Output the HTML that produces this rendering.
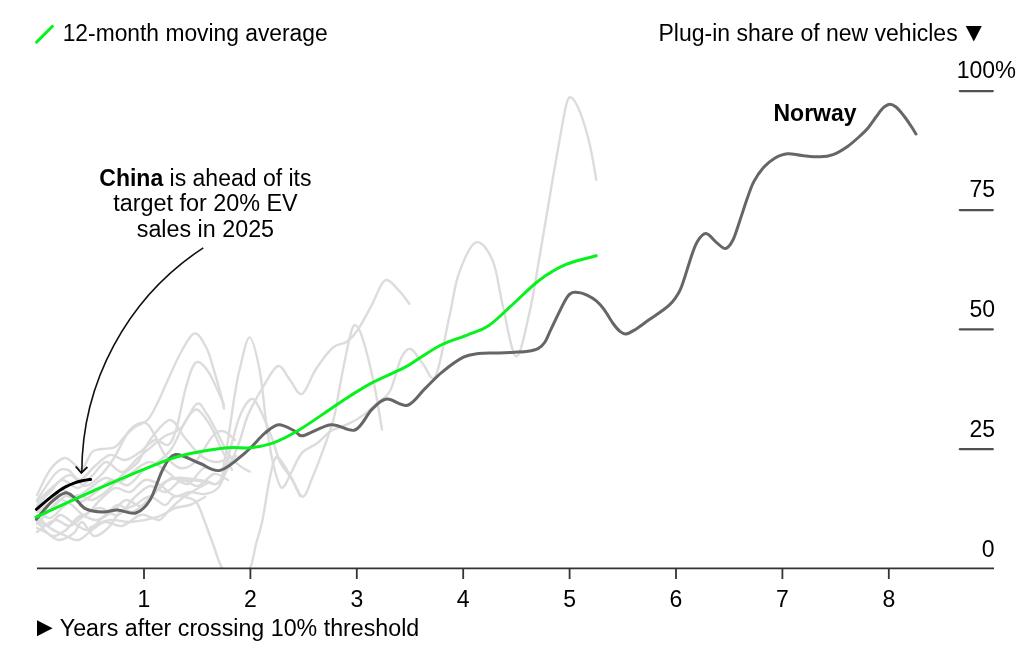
<!DOCTYPE html>
<html><head><meta charset="utf-8"><style>
html,body{margin:0;padding:0;background:#fff;width:1024px;height:658px;overflow:hidden}
svg{position:absolute;left:0;top:0;will-change:transform}
text{font-family:"Liberation Sans",sans-serif;font-size:23px;fill:#000}
</style></head><body>
<svg width="1024" height="658" viewBox="0 0 1024 658">
<defs><clipPath id="cp"><rect x="30" y="80" width="900" height="488"/></clipPath></defs>
<g id="grays" clip-path="url(#cp)">
<path d="M37.0,512.0 C39.2,510.5 45.8,506.7 50.0,503.0 C54.2,499.3 57.8,491.0 62.0,490.0 C66.2,489.0 70.3,497.3 75.0,497.0 C79.7,496.7 85.0,491.2 90.0,488.0 C95.0,484.8 100.0,479.0 105.0,478.0 C110.0,477.0 115.0,483.3 120.0,482.0 C125.0,480.7 130.0,473.3 135.0,470.0 C140.0,466.7 145.0,462.0 150.0,462.0 C155.0,462.0 160.3,467.0 165.0,470.0 C169.7,473.0 173.7,478.3 178.0,480.0 C182.3,481.7 186.3,479.7 191.0,480.0 C195.7,480.3 201.8,481.3 206.0,482.0 C210.2,482.7 213.4,484.7 216.0,484.0 C218.6,483.3 220.4,481.2 221.7,478.0 C223.0,474.8 222.9,469.7 223.7,465.0 C224.5,460.3 225.3,457.1 226.5,450.0 C227.7,442.9 229.2,431.6 230.6,422.4 C232.0,413.2 233.2,403.7 234.7,395.0 C236.2,386.3 237.0,379.6 239.5,370.0 C242.0,360.4 246.2,337.4 249.5,337.4 C252.8,337.4 256.8,355.6 259.6,370.0 C262.4,384.4 264.2,408.7 266.4,424.0 C268.6,439.3 270.3,451.4 272.8,462.0 C275.3,472.6 278.4,485.8 281.4,487.6 C284.4,489.4 287.6,478.8 291.0,473.0 C294.4,467.2 297.6,457.8 301.9,452.9 C306.1,448.0 311.6,447.4 316.5,443.8 C321.4,440.2 325.6,434.4 331.0,431.0 C336.4,427.6 343.5,426.4 349.0,423.7 C354.5,421.0 359.5,417.9 364.0,414.6 C368.5,411.3 371.7,407.9 376.0,404.0 C380.3,400.1 385.8,398.6 390.0,391.0 C394.2,383.4 397.5,365.5 401.0,358.5 C404.5,351.5 407.1,348.1 410.8,349.0 C414.5,349.9 418.9,359.5 423.0,364.0 C427.1,368.5 431.1,383.8 435.5,376.0 C439.9,368.2 445.3,334.4 449.2,317.3 C453.1,300.2 454.4,286.0 458.9,273.5 C463.4,261.0 470.3,244.4 476.0,242.4 C481.7,240.4 488.6,250.9 493.0,261.4 C497.4,271.9 498.8,289.4 502.7,305.2 C506.6,321.0 511.6,355.1 516.1,356.3 C520.6,357.5 525.6,328.7 529.5,312.5 C533.4,296.3 535.3,281.4 539.2,258.9 C543.1,236.4 549.5,197.8 553.0,177.3 C556.5,156.8 558.1,148.2 560.3,136.0 C562.5,123.8 564.6,110.7 566.4,104.3 C568.2,97.9 569.0,96.3 571.2,97.5 C573.4,98.7 576.8,104.0 579.8,111.6 C582.8,119.2 586.8,131.9 589.5,143.3 C592.2,154.7 595.2,173.7 596.3,179.8" stroke="#dcdcdc" stroke-width="2.4" fill="none" stroke-linecap="round" stroke-linejoin="round"/>
<path d="M37.0,495.0 C39.2,490.8 45.5,476.2 50.0,470.0 C54.5,463.8 60.2,459.2 64.0,458.0 C67.8,456.8 70.0,461.2 73.0,463.0 C76.0,464.8 78.8,470.8 82.0,469.0 C85.2,467.2 88.7,455.3 92.0,452.0 C95.3,448.7 98.2,449.8 102.0,449.0 C105.8,448.2 111.2,449.2 115.0,447.0 C118.8,444.8 121.7,439.3 125.0,436.0 C128.3,432.7 131.2,429.8 135.0,427.0 C138.8,424.2 144.2,423.7 148.0,419.5 C151.8,415.3 154.9,408.1 158.0,402.0 C161.1,395.9 162.7,391.3 166.5,383.0 C170.3,374.7 176.4,360.3 181.1,352.0 C185.8,343.7 190.6,334.0 194.8,333.4 C199.1,332.8 203.4,342.2 206.6,348.3 C209.8,354.4 211.5,362.3 213.9,370.2 C216.3,378.1 219.5,389.4 221.2,395.8 C222.9,402.2 223.5,406.4 224.0,408.5" stroke="#dcdcdc" stroke-width="2.4" fill="none" stroke-linecap="round" stroke-linejoin="round"/>
<path d="M37.0,500.0 C40.2,495.5 50.8,478.0 56.0,473.0 C61.2,468.0 64.0,468.8 68.0,470.0 C72.0,471.2 75.5,480.7 80.0,480.0 C84.5,479.3 90.0,470.2 95.0,466.0 C100.0,461.8 105.0,456.0 110.0,455.0 C115.0,454.0 120.0,460.5 125.0,460.0 C130.0,459.5 135.0,455.3 140.0,452.0 C145.0,448.7 150.3,441.2 155.0,440.0 C159.7,438.8 164.5,446.7 168.0,445.0 C171.5,443.3 173.2,438.8 176.0,430.0 C178.8,421.2 182.0,402.4 184.7,392.1 C187.4,381.8 189.7,373.4 192.0,368.4 C194.3,363.4 195.7,361.4 198.4,362.0 C201.2,362.6 205.3,367.3 208.5,372.0 C211.7,376.7 215.0,384.8 217.6,390.3 C220.2,395.8 222.9,402.5 224.0,404.9" stroke="#dcdcdc" stroke-width="2.4" fill="none" stroke-linecap="round" stroke-linejoin="round"/>
<path d="M37.0,524.0 C38.8,522.0 44.2,516.0 48.0,512.0 C51.8,508.0 56.0,501.2 60.0,500.0 C64.0,498.8 67.8,502.5 72.0,505.0 C76.2,507.5 80.3,515.8 85.0,515.0 C89.7,514.2 95.0,504.5 100.0,500.0 C105.0,495.5 110.0,489.3 115.0,488.0 C120.0,486.7 125.0,493.3 130.0,492.0 C135.0,490.7 140.0,481.2 145.0,480.0 C150.0,478.8 155.0,482.3 160.0,485.0 C165.0,487.7 170.0,494.8 175.0,496.0 C180.0,497.2 185.0,492.3 190.0,492.0 C195.0,491.7 200.3,494.7 205.0,494.0 C209.7,493.3 214.5,491.7 218.0,488.0 C221.5,484.3 223.9,476.1 226.0,472.0 C228.1,467.9 228.3,468.7 230.6,463.4 C232.9,458.1 237.1,448.1 240.0,440.0 C242.9,431.9 244.2,423.8 248.0,415.0 C251.8,406.2 258.0,395.2 263.0,387.0 C268.0,378.8 273.5,367.2 278.0,366.0 C282.5,364.8 286.0,375.3 290.0,380.0 C294.0,384.7 297.7,395.8 302.0,394.0 C306.3,392.2 310.8,376.8 316.0,369.0 C321.2,361.2 327.9,352.0 333.0,347.5 C338.1,343.0 342.5,344.8 346.5,342.0 C350.5,339.2 352.9,336.9 357.0,331.0 C361.1,325.1 366.4,314.9 371.0,306.5 C375.6,298.1 380.2,283.2 384.8,280.5 C389.4,277.8 394.4,286.2 398.5,290.1 C402.6,294.0 407.6,301.5 409.4,303.8" stroke="#dcdcdc" stroke-width="2.4" fill="none" stroke-linecap="round" stroke-linejoin="round"/>
<path d="M37.0,528.0 C38.7,528.8 43.3,531.0 47.0,533.0 C50.7,535.0 54.5,540.0 59.0,540.0 C63.5,540.0 70.2,536.0 74.0,533.0 C77.8,530.0 78.7,521.5 82.0,522.0 C85.3,522.5 89.7,535.0 94.0,536.0 C98.3,537.0 103.7,532.0 108.0,528.0 C112.3,524.0 115.5,515.8 120.0,512.0 C124.5,508.2 130.0,507.6 135.0,505.0 C140.0,502.4 145.0,496.5 150.0,496.5 C155.0,496.5 160.9,505.0 165.0,505.0 C169.1,505.0 170.3,497.6 174.6,496.5 C178.9,495.4 187.1,497.2 191.0,498.6 C194.9,500.0 195.7,501.1 197.9,504.7 C200.1,508.3 201.6,513.5 204.1,520.0 C206.6,526.5 209.9,535.9 213.0,544.0 C216.1,552.1 218.6,563.3 222.4,568.5 C226.2,573.7 231.4,575.0 236.0,575.0 C240.6,575.0 246.4,573.7 249.7,568.5 C253.0,563.3 253.9,552.1 256.0,544.0 C258.1,535.9 260.1,531.6 262.5,520.0 C264.9,508.4 268.0,485.1 270.5,474.6 C273.0,464.1 273.9,456.6 277.3,457.0 C280.7,457.4 286.8,470.4 291.0,477.0 C295.2,483.6 299.2,496.8 302.8,496.7 C306.4,496.6 309.6,483.9 312.8,476.6 C316.0,469.3 319.3,460.3 322.0,453.0 C324.7,445.7 327.1,439.2 329.2,432.8 C331.3,426.4 332.7,423.4 334.7,414.6 C336.7,405.8 338.4,393.4 341.0,380.0 C343.6,366.6 348.1,343.1 350.6,334.0 C353.1,324.9 354.1,324.7 356.1,325.6 C358.2,326.5 359.9,329.7 362.9,339.3 C365.9,348.9 370.7,368.1 373.9,383.1 C377.1,398.2 380.6,421.9 382.0,429.6" stroke="#dcdcdc" stroke-width="2.4" fill="none" stroke-linecap="round" stroke-linejoin="round"/>
<path d="M37.0,520.0 C38.8,521.0 44.2,526.8 48.0,526.0 C51.8,525.2 56.0,515.7 60.0,515.0 C64.0,514.3 67.3,519.5 72.0,522.0 C76.7,524.5 83.0,530.7 88.0,530.0 C93.0,529.3 97.0,522.2 102.0,518.0 C107.0,513.8 113.0,506.0 118.0,505.0 C123.0,504.0 127.0,512.8 132.0,512.0 C137.0,511.2 142.7,504.9 148.0,500.0 C153.3,495.1 158.8,486.5 163.7,482.8 C168.6,479.1 172.8,478.7 177.4,478.0 C182.0,477.3 186.0,478.1 191.0,478.7 C196.0,479.3 203.4,480.6 207.5,481.5 C211.6,482.4 213.2,484.9 215.7,484.2 C218.2,483.5 220.7,480.9 222.5,477.4 C224.3,473.9 224.9,469.1 226.5,463.4 C228.1,457.6 229.8,450.9 232.0,442.9 C234.2,434.9 236.8,422.8 240.0,415.5 C243.2,408.2 247.8,400.6 251.0,399.2 C254.2,397.8 255.5,400.9 259.0,407.4 C262.5,413.9 268.5,429.2 272.0,438.3 C275.5,447.4 276.8,455.4 280.0,462.0 C283.2,468.6 287.7,472.3 291.0,478.0 C294.3,483.7 298.5,493.0 300.0,496.0" stroke="#dcdcdc" stroke-width="2.4" fill="none" stroke-linecap="round" stroke-linejoin="round"/>
<path d="M37.0,506.0 C39.2,503.7 45.8,496.3 50.0,492.0 C54.2,487.7 57.3,480.7 62.0,480.0 C66.7,479.3 73.0,488.7 78.0,488.0 C83.0,487.3 87.3,480.3 92.0,476.0 C96.7,471.7 101.0,462.7 106.0,462.0 C111.0,461.3 116.7,472.7 122.0,472.0 C127.3,471.3 133.3,462.0 138.0,458.0 C142.7,454.0 145.5,451.7 150.0,448.0 C154.5,444.3 159.8,439.3 165.0,436.0 C170.2,432.7 175.7,433.3 181.0,428.0 C186.3,422.7 192.4,406.5 196.6,404.0 C200.8,401.5 202.8,408.6 206.0,412.8 C209.2,417.0 212.8,424.2 215.5,429.2 C218.2,434.2 219.9,438.3 222.4,442.9 C224.9,447.5 227.7,452.7 230.6,456.6 C233.5,460.5 236.9,463.6 240.1,466.1 C243.3,468.6 248.1,470.7 249.7,471.6" stroke="#dcdcdc" stroke-width="2.4" fill="none" stroke-linecap="round" stroke-linejoin="round"/>
<path d="M37.0,518.0 C39.5,516.3 47.2,511.7 52.0,508.0 C56.8,504.3 61.3,497.0 66.0,496.0 C70.7,495.0 75.0,502.7 80.0,502.0 C85.0,501.3 90.7,495.7 96.0,492.0 C101.3,488.3 106.7,481.2 112.0,480.0 C117.3,478.8 122.7,486.7 128.0,485.0 C133.3,483.3 139.0,473.8 144.0,470.0 C149.0,466.2 153.3,465.7 158.0,462.0 C162.7,458.3 167.5,454.7 172.0,448.0 C176.5,441.3 180.9,428.4 185.0,422.0 C189.1,415.6 192.4,409.0 196.6,409.5 C200.8,410.0 206.1,418.9 210.0,425.0 C213.9,431.1 216.3,438.5 220.0,446.0 C223.7,453.5 230.0,466.0 232.0,470.0" stroke="#dcdcdc" stroke-width="2.4" fill="none" stroke-linecap="round" stroke-linejoin="round"/>
<path d="M37.0,502.0 C40.0,499.2 49.5,489.5 55.0,485.0 C60.5,480.5 65.0,474.8 70.0,475.0 C75.0,475.2 80.0,485.8 85.0,486.0 C90.0,486.2 95.2,480.7 100.0,476.0 C104.8,471.3 109.1,465.6 114.0,458.0 C118.9,450.4 124.4,436.3 129.5,430.4 C134.6,424.5 140.6,422.3 144.7,422.8 C148.8,423.3 150.4,428.0 153.8,433.4 C157.2,438.8 160.6,449.2 165.0,455.0 C169.4,460.8 175.0,466.8 180.0,468.0 C185.0,469.2 189.5,467.3 195.0,462.0 C200.5,456.7 208.0,441.1 212.8,436.0 C217.6,430.9 220.0,430.6 223.7,431.3 C227.4,432.0 233.1,438.6 235.0,440.0" stroke="#dcdcdc" stroke-width="2.4" fill="none" stroke-linecap="round" stroke-linejoin="round"/>
<path d="M37.0,510.0 C39.2,511.3 45.5,518.7 50.0,518.0 C54.5,517.3 59.3,509.8 64.0,506.0 C68.7,502.2 73.3,496.0 78.0,495.0 C82.7,494.0 87.0,500.8 92.0,500.0 C97.0,499.2 103.0,494.2 108.0,490.0 C113.0,485.8 117.0,479.7 122.0,475.0 C127.0,470.3 133.3,467.8 138.0,462.0 C142.7,456.2 144.7,447.0 150.0,440.0 C155.3,433.0 164.2,420.3 170.0,420.0 C175.8,419.7 180.0,432.2 185.0,438.0 C190.0,443.8 195.0,451.0 200.0,455.0 C205.0,459.0 210.0,461.5 215.0,462.0 C220.0,462.5 227.5,458.7 230.0,458.0" stroke="#dcdcdc" stroke-width="2.4" fill="none" stroke-linecap="round" stroke-linejoin="round"/>
<path d="M37.0,522.0 C39.5,524.3 47.2,534.7 52.0,536.0 C56.8,537.3 61.3,533.3 66.0,530.0 C70.7,526.7 75.0,517.7 80.0,516.0 C85.0,514.3 90.7,520.7 96.0,520.0 C101.3,519.3 107.0,515.3 112.0,512.0 C117.0,508.7 121.0,501.0 126.0,500.0 C131.0,499.0 136.7,507.7 142.0,506.0 C147.3,504.3 153.0,494.7 158.0,490.0 C163.0,485.3 167.0,479.0 172.0,478.0 C177.0,477.0 182.7,485.7 188.0,484.0 C193.3,482.3 198.7,470.3 204.0,468.0 C209.3,465.7 214.7,472.0 220.0,470.0 C225.3,468.0 233.3,458.3 236.0,456.0" stroke="#dcdcdc" stroke-width="2.4" fill="none" stroke-linecap="round" stroke-linejoin="round"/>
<path d="M37.0,532.0 C40.0,530.0 49.5,521.0 55.0,520.0 C60.5,519.0 64.8,527.0 70.0,526.0 C75.2,525.0 81.0,517.0 86.0,514.0 C91.0,511.0 94.7,507.8 100.0,508.0 C105.3,508.2 112.3,516.7 118.0,515.0 C123.7,513.3 128.7,502.8 134.0,498.0 C139.3,493.2 144.7,487.0 150.0,486.0 C155.3,485.0 160.7,493.0 166.0,492.0 C171.3,491.0 176.7,481.0 182.0,480.0 C187.3,479.0 192.7,487.0 198.0,486.0 C203.3,485.0 209.0,475.0 214.0,474.0 C219.0,473.0 225.7,479.0 228.0,480.0" stroke="#dcdcdc" stroke-width="2.4" fill="none" stroke-linecap="round" stroke-linejoin="round"/>
<path d="M37.0,515.0 C39.2,517.2 45.5,524.7 50.0,528.0 C54.5,531.3 59.3,533.0 64.0,535.0 C68.7,537.0 73.3,540.8 78.0,540.0 C82.7,539.2 87.5,533.0 92.0,530.0 C96.5,527.0 100.0,522.7 105.0,522.0 C110.0,521.3 116.2,527.2 122.0,526.0 C127.8,524.8 135.3,516.5 140.0,515.0 C144.7,513.5 146.7,516.2 150.0,517.0 C153.3,517.8 156.4,520.9 159.6,519.8 C162.8,518.7 165.8,513.5 169.2,510.2 C172.6,506.9 175.7,503.4 180.0,500.0 C184.3,496.6 190.0,493.0 195.0,490.0 C200.0,487.0 207.5,483.3 210.0,482.0" stroke="#dcdcdc" stroke-width="2.4" fill="none" stroke-linecap="round" stroke-linejoin="round"/>
<path d="M90.0,527.5 C93.3,526.2 103.2,520.9 110.0,520.0 C116.8,519.1 122.9,522.6 131.0,522.0 C139.1,521.4 151.1,518.9 158.4,516.6 C165.7,514.3 169.7,509.9 175.0,508.0 C180.3,506.1 185.0,506.8 190.0,505.0 C195.0,503.2 202.5,498.3 205.0,497.0" stroke="#dcdcdc" stroke-width="2.4" fill="none" stroke-linecap="round" stroke-linejoin="round"/>
</g>
<g id="grid" stroke="#505050" stroke-width="2.2" stroke-linecap="round">
<line x1="959.8" y1="91.1" x2="992.8" y2="91.1"/>
<line x1="959.8" y1="210.1" x2="992.8" y2="210.1"/>
<line x1="959.8" y1="329.4" x2="992.8" y2="329.4"/>
<line x1="959.8" y1="449.2" x2="992.8" y2="449.2"/>
</g>
<line x1="37" y1="568.4" x2="994" y2="568.4" stroke="#333" stroke-width="1.6"/>
<g stroke="#333" stroke-width="1.8">
<line x1="144.0" y1="568" x2="144.0" y2="579"/><line x1="250.4" y1="568" x2="250.4" y2="579"/><line x1="356.8" y1="568" x2="356.8" y2="579"/><line x1="463.2" y1="568" x2="463.2" y2="579"/><line x1="569.6" y1="568" x2="569.6" y2="579"/><line x1="676.0" y1="568" x2="676.0" y2="579"/><line x1="782.4" y1="568" x2="782.4" y2="579"/><line x1="888.8" y1="568" x2="888.8" y2="579"/>
</g>
<path d="M36.4,509.3 C37.7,508.2 41.5,504.9 44.0,502.8 C46.5,500.7 49.1,498.5 51.5,496.6 C53.9,494.7 56.2,492.8 58.5,491.2 C60.8,489.6 62.8,488.2 65.5,486.8 C68.2,485.4 71.9,483.8 74.7,482.8 C77.5,481.8 79.8,481.3 82.5,480.7 C85.2,480.1 89.2,479.6 90.6,479.4" stroke="#000" stroke-width="3" fill="none" stroke-linecap="round"/>
<path d="M36.4,519.3 C38.9,516.4 46.5,506.6 51.3,502.2 C56.1,497.8 61.2,493.6 65.1,492.9 C69.0,492.2 71.3,495.4 74.7,498.0 C78.1,500.6 80.6,506.3 85.3,508.6 C90.0,510.9 97.6,511.8 103.0,512.0 C108.4,512.2 112.1,509.8 117.6,510.0 C123.1,510.2 130.4,514.7 135.8,513.0 C141.2,511.3 145.5,507.3 150.0,500.0 C154.5,492.7 158.6,477.0 162.8,469.4 C167.1,461.8 169.5,455.6 175.5,454.5 C181.5,453.4 191.6,460.4 199.0,463.0 C206.4,465.6 212.4,472.2 220.2,470.4 C228.0,468.6 238.2,458.5 245.7,452.3 C253.1,446.1 259.4,437.8 264.9,433.2 C270.4,428.6 273.7,425.1 278.7,424.7 C283.7,424.3 290.6,429.2 294.7,431.0 C298.8,432.8 297.2,436.8 303.2,435.7 C309.2,434.6 322.3,425.6 330.9,424.7 C339.5,423.8 348.2,432.6 355.0,430.0 C361.8,427.4 366.6,414.5 371.9,409.4 C377.2,404.2 380.9,399.8 386.8,399.1 C392.7,398.4 401.1,407.1 407.5,405.3 C413.9,403.6 419.2,394.1 425.0,388.6 C430.8,383.1 435.7,377.3 442.1,372.1 C448.5,366.9 457.4,360.3 463.4,357.2 C469.4,354.1 472.9,354.3 478.3,353.6 C483.7,352.9 490.0,353.2 496.0,353.0 C502.0,352.8 508.9,352.6 514.2,352.3 C519.5,352.0 524.0,351.9 528.0,351.3 C532.0,350.7 535.2,350.2 538.0,348.6 C540.8,347.1 542.7,345.5 545.0,342.0 C547.3,338.5 548.1,335.0 551.9,327.4 C555.7,319.8 563.4,302.1 567.7,296.3 C572.1,290.5 574.7,292.6 578.0,292.4 C581.3,292.2 584.4,293.9 587.4,295.3 C590.4,296.7 593.5,298.4 596.3,300.8 C599.1,303.2 601.4,305.8 604.2,309.6 C607.0,313.4 610.5,319.9 613.1,323.5 C615.7,327.1 617.9,329.7 620.0,331.4 C622.1,333.1 623.7,334.1 626.0,333.9 C628.3,333.7 630.1,332.7 633.9,330.4 C637.7,328.1 642.8,324.2 648.7,320.0 C654.6,315.8 663.9,310.3 669.2,305.2 C674.5,300.1 676.8,297.4 680.4,289.4 C684.0,281.4 688.2,265.4 691.0,257.4 C693.8,249.4 694.9,245.5 697.4,241.5 C699.9,237.5 702.8,233.4 706.0,233.6 C709.2,233.8 713.4,240.1 716.6,242.6 C719.9,245.1 722.8,248.9 725.5,248.5 C728.2,248.1 730.4,245.0 732.8,240.3 C735.2,235.6 737.6,227.2 740.0,220.2 C742.4,213.2 745.0,204.7 747.3,198.3 C749.6,191.9 751.0,187.1 753.7,181.9 C756.4,176.7 760.2,171.2 763.7,167.3 C767.2,163.4 770.8,160.5 774.7,158.2 C778.7,155.9 782.9,154.1 787.4,153.7 C791.9,153.2 796.5,155.0 802.0,155.5 C807.5,156.0 815.1,157.0 820.3,156.8 C825.5,156.7 828.5,156.3 833.0,154.6 C837.5,152.9 843.1,149.5 847.6,146.4 C852.1,143.3 856.6,139.1 860.0,136.0 C863.4,132.9 865.3,131.2 868.0,128.0 C870.7,124.8 873.5,120.3 876.0,117.0 C878.5,113.7 880.8,110.1 883.0,108.0 C885.2,105.9 886.8,104.6 889.0,104.4 C891.2,104.2 893.5,105.1 896.0,107.0 C898.5,108.9 901.5,112.8 904.0,116.0 C906.5,119.2 909.0,123.0 911.0,126.0 C913.0,129.0 915.2,132.7 916.0,134.0" stroke="#666" stroke-width="3" fill="none" stroke-linecap="round" stroke-linejoin="round"/>
<path d="M35.9,517.1 C46.6,512.2 81.0,496.3 100.0,487.9 C119.0,479.5 136.3,472.2 150.0,466.8 C163.7,461.4 169.6,458.6 182.0,455.5 C194.4,452.4 213.2,449.3 224.5,448.0 C235.8,446.7 241.8,448.6 250.0,447.7 C258.1,446.8 265.2,445.8 273.4,442.8 C281.6,439.9 289.4,435.7 299.0,430.0 C308.6,424.3 322.4,414.4 330.9,408.7 C339.4,403.0 343.2,400.3 350.0,396.0 C356.8,391.7 362.9,387.5 371.9,382.8 C380.9,378.1 395.6,372.2 403.8,367.9 C412.0,363.6 414.5,361.1 420.9,357.2 C427.3,353.3 434.3,348.2 442.1,344.5 C449.9,340.8 459.9,338.0 467.7,334.8 C475.5,331.6 481.1,330.8 488.9,325.5 C496.6,320.2 505.8,310.6 514.2,303.0 C522.6,295.4 530.6,286.7 539.3,280.2 C548.0,273.7 557.1,268.3 566.6,264.2 C576.1,260.1 591.3,257.2 596.3,255.8" stroke="#05f21e" stroke-width="3" fill="none" stroke-linecap="round" stroke-linejoin="round"/>
<path d="M203.3,247.8 A268.8,268.8 0 0 0 81.8,472.7" stroke="#111" stroke-width="1.6" fill="none"/>
<path d="M75.7,466.5 L81.3,472.9 L87.4,467" stroke="#111" stroke-width="1.8" fill="none"/>
<line x1="36.6" y1="42.1" x2="52.5" y2="26.3" stroke="#05f21e" stroke-width="3" stroke-linecap="round"/>
<text x="62.7" y="41.1" textLength="265" lengthAdjust="spacingAndGlyphs">12-month moving average</text>
<text x="658.5" y="41.2">Plug-in share of new vehicles</text>
<path d="M965.8,26 L981.8,26 L973.8,41.6 Z" fill="#000"/>
<text x="995" y="77.8" text-anchor="end">100</text><text x="995" y="77.8" textLength="21" lengthAdjust="spacingAndGlyphs">%</text>
<text x="995" y="197.2" text-anchor="end">75</text>
<text x="995" y="317.2" text-anchor="end">50</text>
<text x="995" y="437.0" text-anchor="end">25</text>
<text x="994.5" y="557.3" text-anchor="end">0</text>
<text x="144.0" y="606.8" text-anchor="middle">1</text><text x="250.4" y="606.8" text-anchor="middle">2</text><text x="356.8" y="606.8" text-anchor="middle">3</text><text x="463.2" y="606.8" text-anchor="middle">4</text><text x="569.6" y="606.8" text-anchor="middle">5</text><text x="676.0" y="606.8" text-anchor="middle">6</text><text x="782.4" y="606.8" text-anchor="middle">7</text><text x="888.8" y="606.8" text-anchor="middle">8</text>
<path d="M37,620.2 L52.6,628.2 L37,636.3 Z" fill="#000"/>
<text x="59.8" y="636.3" textLength="359.5" lengthAdjust="spacingAndGlyphs">Years after crossing 10% threshold</text>
<text x="205.4" y="185.8" text-anchor="middle"><tspan font-weight="bold">China</tspan> is ahead of its</text>
<text x="205.4" y="210.9" text-anchor="middle" textLength="184.5" lengthAdjust="spacingAndGlyphs">target for 20% EV</text>
<text x="205.4" y="236.7" text-anchor="middle" textLength="137.3" lengthAdjust="spacingAndGlyphs">sales in 2025</text>
<text x="773.5" y="120.7" font-weight="bold">Norway</text>
</svg>
</body></html>
